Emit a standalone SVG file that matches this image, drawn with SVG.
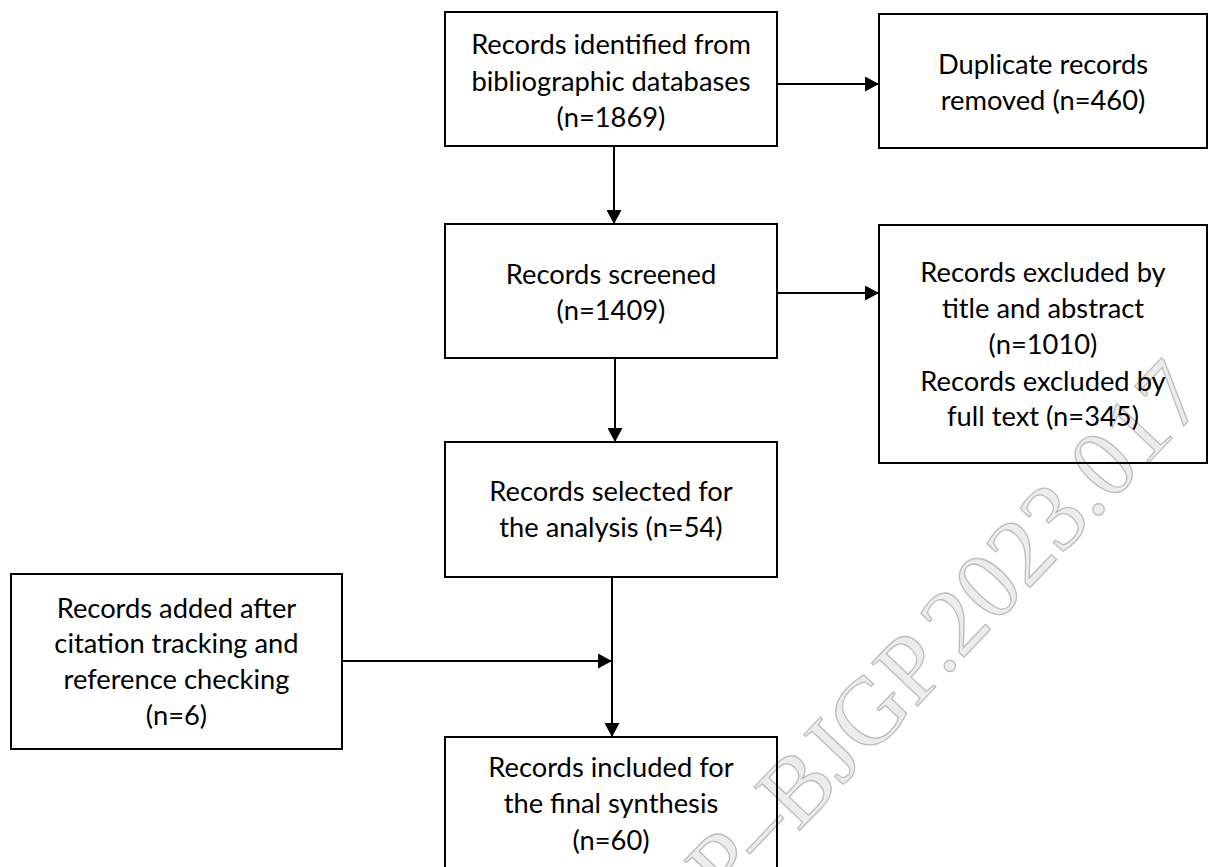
<svg xmlns="http://www.w3.org/2000/svg" width="1208" height="867" viewBox="0 0 1208 867">
  <defs>
    <style>
      .box { fill: none; stroke: #000; stroke-width: 2; }
      .lbl { font-family: Lato, "Liberation Sans", sans-serif; font-size: 27.3px; fill: #000; text-anchor: middle; }
      .conn { fill: none; stroke: #000; stroke-width: 2; marker-end: url(#arrow); }
      .wm { font-family: "Liberation Serif", serif; font-size: 96px; fill: #ececec; stroke: #bcbcbc; stroke-width: 1.3; }
    </style>
    <marker id="arrow" markerUnits="userSpaceOnUse" markerWidth="14" markerHeight="15" refX="14" refY="7.5" orient="auto">
      <path d="M0,0 L14,7.5 L0,15 Z" fill="#000"/>
    </marker>
  </defs>
  <rect x="0" y="0" width="1208" height="867" fill="#fff"/>
  <g id="watermark">
    <text class="wm" transform="translate(728,906) rotate(-46.5)">P–BJGP.2023.017</text>
  </g>
  <g id="connectors">
    <path class="conn" d="M777,84 H879"/>
    <path class="conn" d="M614,146 V224"/>
    <path class="conn" d="M777,293 H879"/>
    <path class="conn" d="M615,358 V442"/>
    <path class="conn" d="M612,577 V737"/>
    <path class="conn" d="M342,661 H612"/>
  </g>
  <g id="n-identified">
    <rect class="box" x="445" y="12" width="332" height="134"/>
    <text class="lbl" x="611" y="54">Records identified from</text>
    <text class="lbl" x="611" y="91">bibliographic databases</text>
    <text class="lbl" x="611" y="127">(n=1869)</text>
  </g>
  <g id="n-duplicates">
    <rect class="box" x="879" y="14" width="328" height="134"/>
    <text class="lbl" x="1043" y="74">Duplicate records</text>
    <text class="lbl" x="1043" y="110">removed (n=460)</text>
  </g>
  <g id="n-screened">
    <rect class="box" x="445" y="224" width="332" height="134"/>
    <text class="lbl" x="611" y="284">Records screened</text>
    <text class="lbl" x="611" y="320">(n=1409)</text>
  </g>
  <g id="n-excluded">
    <rect class="box" x="879" y="225" width="328" height="238"/>
    <text class="lbl" x="1043" y="282">Records excluded by</text>
    <text class="lbl" x="1043" y="318">title and abstract</text>
    <text class="lbl" x="1043" y="354">(n=1010)</text>
    <text class="lbl" x="1043" y="391">Records excluded by</text>
    <text class="lbl" x="1043" y="426">full text (n=345)</text>
  </g>
  <g id="n-selected">
    <rect class="box" x="445" y="442" width="332" height="135"/>
    <text class="lbl" x="611" y="501">Records selected for</text>
    <text class="lbl" x="611" y="537">the analysis (n=54)</text>
  </g>
  <g id="n-added">
    <rect class="box" x="11" y="574" width="331" height="175"/>
    <text class="lbl" x="176.5" y="618">Records added after</text>
    <text class="lbl" x="176.5" y="653">citation tracking and</text>
    <text class="lbl" x="176.5" y="689">reference checking</text>
    <text class="lbl" x="176.5" y="725">(n=6)</text>
  </g>
  <g id="n-included">
    <rect class="box" x="445" y="737" width="332" height="140"/>
    <text class="lbl" x="611" y="777">Records included for</text>
    <text class="lbl" x="611" y="813">the final synthesis</text>
    <text class="lbl" x="611" y="850">(n=60)</text>
  </g>
</svg>
